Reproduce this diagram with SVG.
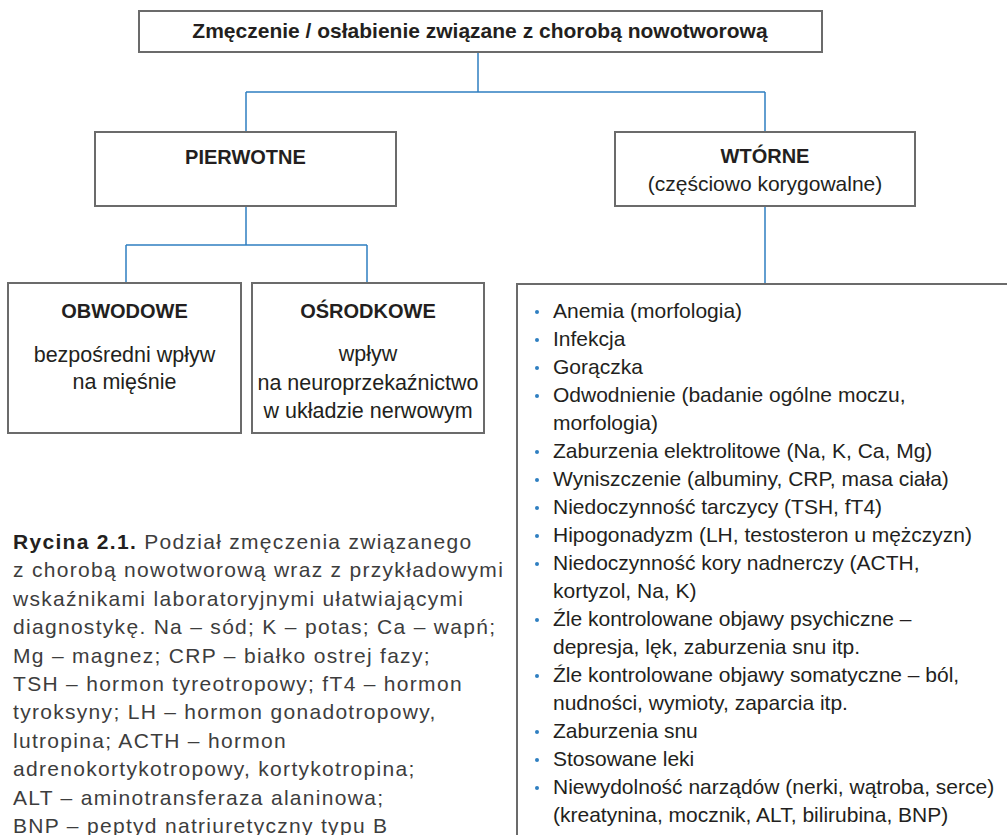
<svg xmlns="http://www.w3.org/2000/svg" width="1007" height="835" viewBox="0 0 1007 835">
<style>
.box{fill:#fff;stroke:#6b6b6b;stroke-width:2}
.con{fill:none;stroke:#2f7fc1;stroke-width:1.5}
.t{font-family:"Liberation Sans",Arial,sans-serif;fill:#231f20}
.h{font-family:"Liberation Sans",Arial,sans-serif;font-weight:bold;fill:#231f20;text-anchor:middle}
.c{text-anchor:middle;font-size:21.5px}
.li{font-size:21px}
.cap{font-family:"Liberation Sans",Arial,sans-serif;font-size:21px;fill:#3d3d3d;letter-spacing:1.3px}
.b{fill:#2f7fc1}
</style>
<rect width="1007" height="835" fill="#fff"/>
<g id="connectors">
<path class="con" d="M478 52V92M246 92H765M246 92V132M765 92V132M246 206V245M126 245H367M126 245V283M367 245V283M765 206V284"/>
</g>
<g id="root">
<rect class="box" x="139" y="11" width="683" height="41"/>
<text class="h" x="480" y="38" font-size="21">Zmęczenie / osłabienie związane z chorobą nowotworową</text>
</g>
<g id="pierwotne">
<rect class="box" x="95" y="132" width="301" height="74"/>
<text class="h" x="245.5" y="164" font-size="20">PIERWOTNE</text>
</g>
<g id="wtorne">
<rect class="box" x="615" y="132" width="300" height="74"/>
<text class="h" x="765" y="163" font-size="20">WTÓRNE</text>
<text class="t" x="765" y="191" font-size="21" text-anchor="middle">(częściowo korygowalne)</text>
</g>
<g id="obwodowe">
<rect class="box" x="8" y="283" width="233" height="150"/>
<text class="h" x="124.5" y="318" font-size="20">OBWODOWE</text>
<text class="t c" x="124.5" y="362">bezpośredni wpływ</text>
<text class="t c" x="124.5" y="389">na mięśnie</text>
</g>
<g id="osrodkowe">
<rect class="box" x="252" y="283" width="232" height="150"/>
<text class="h" x="368" y="318" font-size="20">OŚRODKOWE</text>
<text class="t c" x="368" y="361">wpływ</text>
<text class="t c" x="368" y="390">na neuroprzekaźnictwo</text>
<text class="t c" x="368" y="418">w układzie nerwowym</text>
</g>
<g id="lista">
<rect class="box" x="517" y="284" width="520" height="600"/>
<g class="b">
<circle cx="537" cy="312" r="2"/>
<circle cx="537" cy="340" r="2"/>
<circle cx="537" cy="368" r="2"/>
<circle cx="537" cy="396" r="2"/>
<circle cx="537" cy="452" r="2"/>
<circle cx="537" cy="480" r="2"/>
<circle cx="537" cy="508" r="2"/>
<circle cx="537" cy="536" r="2"/>
<circle cx="537" cy="564" r="2"/>
<circle cx="537" cy="620" r="2"/>
<circle cx="537" cy="676" r="2"/>
<circle cx="537" cy="732" r="2"/>
<circle cx="537" cy="760" r="2"/>
<circle cx="537" cy="788" r="2"/>
</g>
<text class="t li" x="553" y="318">Anemia (morfologia)</text>
<text class="t li" x="553" y="346">Infekcja</text>
<text class="t li" x="553" y="374">Gorączka</text>
<text class="t li" x="553" y="402">Odwodnienie (badanie ogólne moczu,</text>
<text class="t li" x="553" y="430">morfologia)</text>
<text class="t li" x="553" y="458">Zaburzenia elektrolitowe (Na, K, Ca, Mg)</text>
<text class="t li" x="553" y="486">Wyniszczenie (albuminy, CRP, masa ciała)</text>
<text class="t li" x="553" y="514">Niedoczynność tarczycy (TSH, fT4)</text>
<text class="t li" x="553" y="542">Hipogonadyzm (LH, testosteron u mężczyzn)</text>
<text class="t li" x="553" y="570">Niedoczynność kory nadnerczy (ACTH,</text>
<text class="t li" x="553" y="598">kortyzol, Na, K)</text>
<text class="t li" x="553" y="626">Źle kontrolowane objawy psychiczne –</text>
<text class="t li" x="553" y="654">depresja, lęk, zaburzenia snu itp.</text>
<text class="t li" x="553" y="682">Źle kontrolowane objawy somatyczne – ból,</text>
<text class="t li" x="553" y="710">nudności, wymioty, zaparcia itp.</text>
<text class="t li" x="553" y="738">Zaburzenia snu</text>
<text class="t li" x="553" y="766">Stosowane leki</text>
<text class="t li" x="553" y="794">Niewydolność narządów (nerki, wątroba, serce)</text>
<text class="t li" x="553" y="822">(kreatynina, mocznik, ALT, bilirubina, BNP)</text>
</g>
<g id="caption">
<text class="cap" x="13" y="549"><tspan font-weight="bold" fill="#231f20">Rycina 2.1.</tspan> Podział zmęczenia związanego</text>
<text class="cap" x="13" y="577.4">z chorobą nowotworową wraz z przykładowymi</text>
<text class="cap" x="13" y="605.8">wskaźnikami laboratoryjnymi ułatwiającymi</text>
<text class="cap" x="13" y="634.2">diagnostykę. Na – sód; K – potas; Ca – wapń;</text>
<text class="cap" x="13" y="662.6">Mg – magnez; CRP – białko ostrej fazy;</text>
<text class="cap" x="13" y="691">TSH – hormon tyreotropowy; fT4 – hormon</text>
<text class="cap" x="13" y="719.4">tyroksyny; LH – hormon gonadotropowy,</text>
<text class="cap" x="13" y="747.8">lutropina; ACTH – hormon</text>
<text class="cap" x="13" y="776.2">adrenokortykotropowy, kortykotropina;</text>
<text class="cap" x="13" y="804.6">ALT – aminotransferaza alaninowa;</text>
<text class="cap" x="13" y="833">BNP – peptyd natriuretyczny typu B</text>
</g>
</svg>
